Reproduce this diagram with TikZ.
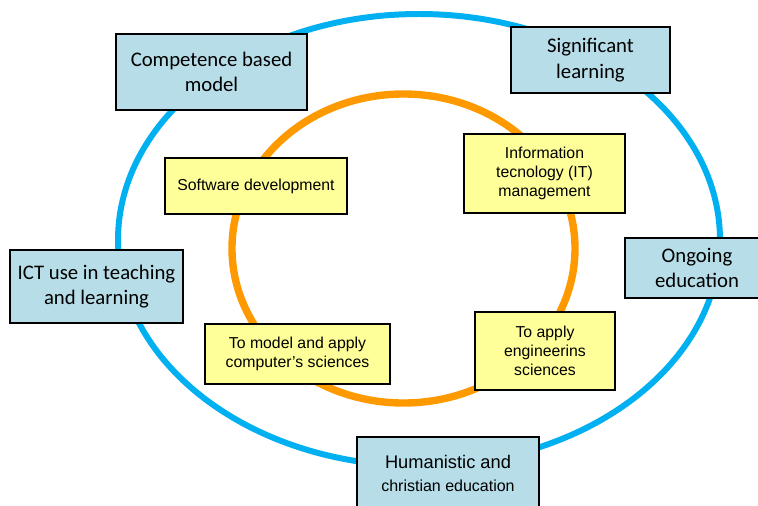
\documentclass[tikz,border=0pt]{standalone}
\usepackage{fontspec}
\setmainfont{Carlito}
\newfontfamily\arialfont{Liberation Sans}
\definecolor{ringblue}{HTML}{00B0F0}
\definecolor{ringorange}{HTML}{FF9900}
\definecolor{boxblue}{HTML}{B7DDE8}
\definecolor{boxyellow}{HTML}{FFFF99}
\begin{document}
\begin{tikzpicture}[x=0.02cm,y=-0.02cm,
	outerbox/.style={draw=black, line width=0.9pt, fill=boxblue, align=center, inner sep=0pt,
		font=\fontsize{11.8}{14.5}\selectfont},
	innerbox/.style={draw=black, line width=0.9pt, fill=boxyellow, align=center, inner sep=0pt,
		font=\arialfont\fontsize{9}{11}\selectfont}]
	\clip (0,0) rectangle (758,505);
	\useasboundingbox (0,0) rectangle (758,505);
	% rings
	\draw [ringblue, line width=3.4pt] (419,240) ellipse [x radius=301, y radius=226];
	\draw [ringorange, line width=4.2pt] (403.5,248.5) ellipse [x radius=171.5, y radius=154.5];
	% outer boxes
	\node [outerbox, minimum width=3.82cm, minimum height=1.52cm] (competence) at (211.5,72) {Competence based\\model};
	\node [outerbox, minimum width=3.18cm, minimum height=1.32cm] (significant) at (590.5,60) {Significant\\learning};
	\node [outerbox, minimum width=2.88cm, minimum height=1.20cm] (ongoing) at (697,268) {Ongoing\\education};
	\node [outerbox, minimum width=3.46cm, minimum height=1.46cm] (ict) at (96.5,286.5) {ICT use in teaching\\and learning};
	\node [outerbox, minimum width=3.64cm, minimum height=1.46cm, font=\arialfont\fontsize{9.1}{13}\selectfont] (humanistic) at (448,473.5) {{\fontsize{10.4}{13}\selectfont Humanistic and}\\christian education};
	% inner boxes
	\node [innerbox, minimum width=3.64cm, minimum height=1.12cm] (software) at (256,186) {Software development};
	\node [innerbox, minimum width=3.22cm, minimum height=1.58cm] (infotech) at (544.5,173.5) {Information\\tecnology (IT)\\management};
	\node [innerbox, minimum width=3.70cm, minimum height=1.20cm] (model) at (297.5,354) {To model and apply\\computer’s sciences};
	\node [innerbox, minimum width=2.80cm, minimum height=1.56cm] (apply) at (545,351) {To apply\\engineerins\\sciences};
\end{tikzpicture}
\end{document}
